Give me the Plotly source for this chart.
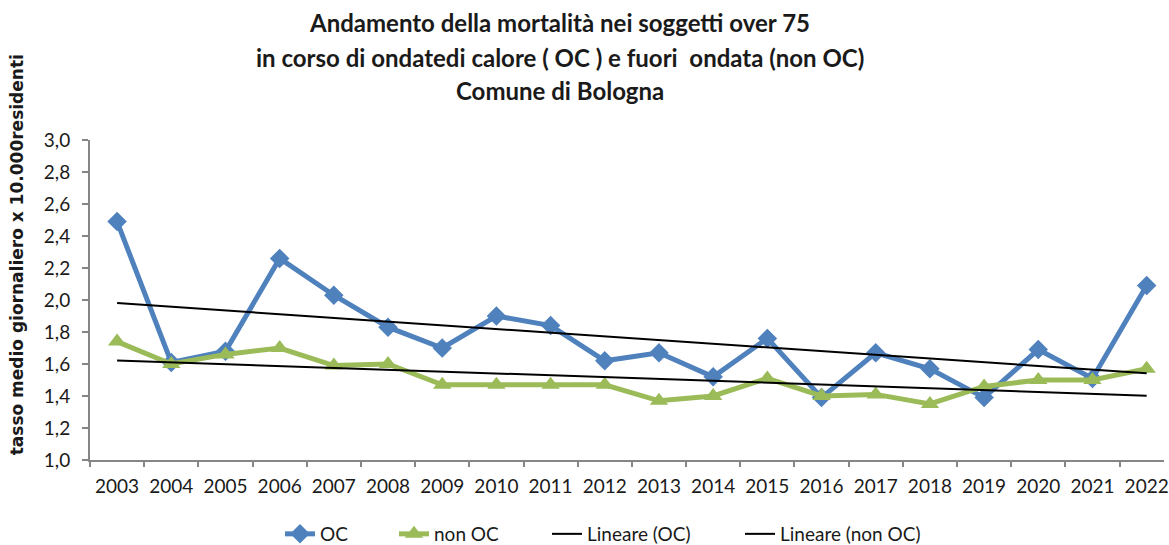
import numpy as np
import plotly.graph_objects as go

years = ["2003", "2004", "2005", "2006", "2007", "2008", "2009", "2010", "2011", "2012",
         "2013", "2014", "2015", "2016", "2017", "2018", "2019", "2020", "2021", "2022"]
oc = [2.49, 1.61, 1.68, 2.26, 2.03, 1.83, 1.70, 1.90, 1.84, 1.62,
      1.67, 1.52, 1.76, 1.39, 1.67, 1.57, 1.39, 1.69, 1.51, 2.09]
non_oc = [1.74, 1.60, 1.66, 1.70, 1.59, 1.60, 1.47, 1.47, 1.47, 1.47,
          1.37, 1.40, 1.51, 1.40, 1.41, 1.35, 1.46, 1.50, 1.50, 1.57]

title_lines = ["Andamento della mortalità nei soggetti over 75",
               "in corso di ondatedi calore ( OC ) e fuori  ondata (non OC)",
               "Comune di Bologna"]
y_title = "tasso medio giornaliero x 10.000residenti"

# linear trend lines (Excel "Lineare")
idx = np.arange(len(years))
k_oc = np.polyfit(idx, oc, 1)
k_non = np.polyfit(idx, non_oc, 1)
trend_oc = np.polyval(k_oc, idx)
trend_non = np.polyval(k_non, idx)

BLUE = "#4F81BD"
GREEN = "#9BBB59"
AXIS = "#868686"
TXT = "#1a1a1a"
FONT = "Lato"

fig = go.Figure()
fig.add_trace(go.Scatter(x=years, y=oc, name="OC", mode="lines+markers",
                         line=dict(color=BLUE, width=5), legend="legend",
                         marker=dict(symbol="diamond", size=15, color=BLUE)))
fig.add_trace(go.Scatter(x=years, y=non_oc, name="non OC", mode="lines+markers",
                         line=dict(color=GREEN, width=5), legend="legend2",
                         marker=dict(symbol="triangle-up", size=16, color=GREEN)))
fig.add_trace(go.Scatter(x=years, y=trend_oc, name="Lineare (OC)", mode="lines",
                         legend="legend3", line=dict(color="black", width=2)))
fig.add_trace(go.Scatter(x=years, y=trend_non, name="Lineare (non OC)", mode="lines",
                         legend="legend4", line=dict(color="black", width=2)))

annotations = []
for txt, ypx in zip(title_lines, [22, 57, 90]):
    annotations.append(dict(text=f"<b>{txt}</b>", xref="paper", yref="paper",
                            x=(562 - 90) / 1079, y=(460 - ypx) / 320,
                            xanchor="center", yanchor="middle", showarrow=False,
                            font=dict(family=FONT, size=24, color=TXT)))
annotations.append(dict(text=f"<b>{y_title}</b>", xref="paper", yref="paper",
                        x=(17 - 90) / 1079, y=(460 - 255) / 320,
                        xanchor="center", yanchor="middle", showarrow=False,
                        textangle=-90,
                        font=dict(family="DejaVu Sans", size=17, color=TXT)))


def leg(xpx):
    return dict(orientation="h", xref="container", yref="container",
                x=xpx / 1169, y=(545 - 534) / 545, xanchor="left", yanchor="middle",
                bgcolor="rgba(0,0,0,0)",
                font=dict(family=FONT, size=19, color=TXT))


fig.update_layout(
    width=1169, height=545,
    paper_bgcolor="white", plot_bgcolor="white",
    margin=dict(l=90, r=0, t=140, b=85),
    separators=",.",
    showlegend=True,
    legend=leg(280), legend2=leg(394), legend3=leg(547), legend4=leg(740),
    annotations=annotations,
    xaxis=dict(type="category", range=[-0.5, 19.32], showgrid=False,
               showline=True, linecolor=AXIS, linewidth=2,
               ticks="outside", tickson="boundaries", ticklen=5, tickcolor=AXIS, tickwidth=2,
               ticklabelstandoff=8,
               tickfont=dict(family=FONT, size=19, color=TXT), zeroline=False),
    yaxis=dict(range=[1.0, 3.0], dtick=0.2, tick0=1.0, tickformat=".1f", showgrid=False,
               showline=True, linecolor=AXIS, linewidth=2,
               ticks="outside", ticklen=6, tickcolor=AXIS, tickwidth=2,
               ticklabelstandoff=8,
               tickfont=dict(family=FONT, size=19, color=TXT), zeroline=False),
)

fig.write_html("out.html", config={"displayModeBar": False},
               post_script="document.body.style.margin='0';")
